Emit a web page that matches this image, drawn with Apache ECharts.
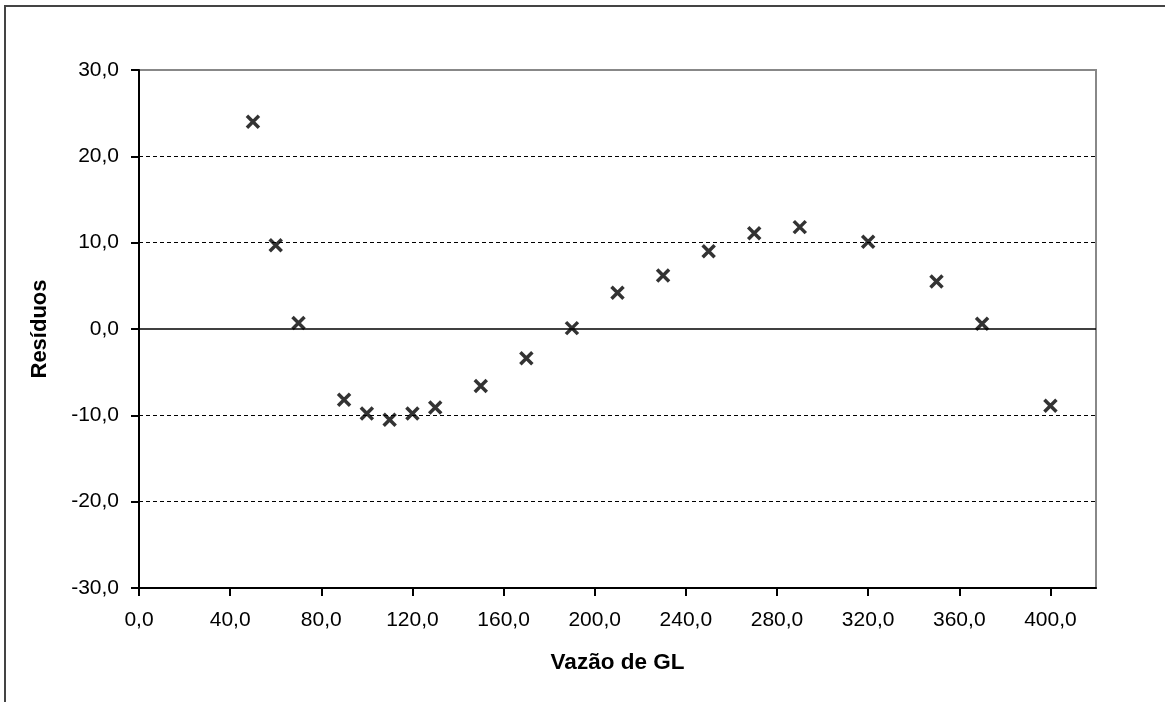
<!DOCTYPE html>
<html>
<head>
<meta charset="utf-8">
<title>Resíduos x Vazão de GL</title>
<script src="https://cdn.jsdelivr.net/npm/echarts@6/dist/echarts.min.js"></script>
<style>
  html, body { margin: 0; padding: 0; background: #fff; overflow: hidden; }
  #frame {
    position: absolute; left: 4px; top: 5px; width: 1180px; height: 720px;
    border-left: 2px solid #444; border-top: 2px solid #444; box-sizing: border-box;
  }
  #chart { position: absolute; left: 0; top: 0; width: 1165px; height: 702px; }
</style>
</head>
<body>
<div id="frame"></div>
<div id="chart"></div>
<script>
// Flow rate (Vazão de GL) and the matching residuals
const vazao = [50, 60, 70, 90, 100, 110, 120, 130, 150, 170, 190, 210, 230, 250, 270, 290, 320, 350, 370, 400];
const residuos = [24.0, 9.7, 0.7, -8.2, -9.8, -10.5, -9.8, -9.1, -6.6, -3.4, 0.1, 4.2, 6.2, 9.0, 11.1, 11.8, 10.1, 5.5, 0.6, -8.9];

// Axis ranges, labelled x ticks and dashed reference levels
const xRange = [0, 420, 40];
const xTicks = [0, 40, 80, 120, 160, 200, 240, 280, 320, 360, 400];
const yRange = [-30, 30, 10];
const dashedLevels = [-20, -10, 10, 20];

const fmt = v => v.toFixed(1).replace('.', ',');
const FONT = 'Liberation Sans, Arial, sans-serif';

const chart = echarts.init(document.getElementById('chart'), null, { renderer: 'canvas' });

chart.setOption({
  animation: false,
  backgroundColor: 'transparent',
  grid: {
    left: 139, top: 70, right: 69, bottom: 114,
    show: true, borderColor: '#888', borderWidth: 2, backgroundColor: 'transparent'
  },
  xAxis: {
    type: 'value',
    min: xRange[0], max: xRange[1], interval: xRange[2],
    name: 'Vazão de GL',
    nameLocation: 'middle',
    nameGap: 63,
    nameTextStyle: { fontFamily: FONT, fontSize: 22.5, fontWeight: 'bold', color: '#000' },
    axisLine: { show: true, onZero: false, lineStyle: { color: '#000', width: 2 } },
    axisTick: { show: true, length: 8, customValues: xTicks, lineStyle: { color: '#000', width: 2 } },
    axisLabel: {
      margin: 22, fontFamily: FONT, fontSize: 21, color: '#000',
      customValues: xTicks, formatter: fmt
    },
    splitLine: { show: false }
  },
  yAxis: {
    type: 'value',
    min: yRange[0], max: yRange[1], interval: yRange[2],
    name: 'Resíduos',
    nameLocation: 'middle',
    nameGap: 88,
    nameRotate: 90,
    nameTextStyle: { fontFamily: FONT, fontSize: 22, fontWeight: 'bold', color: '#000' },
    axisLine: { show: true, onZero: false, lineStyle: { color: '#000', width: 2 } },
    axisTick: { show: true, length: 8, lineStyle: { color: '#000', width: 2 } },
    axisLabel: { margin: 20, fontFamily: FONT, fontSize: 21, color: '#000', formatter: fmt },
    splitLine: { show: false }
  },
  series: [
    {
      type: 'scatter',
      data: vazao.map((x, i) => [x, residuos[i]]),
      symbol: 'path://M0,0 L2,2 M2,0 L0,2',
      symbolSize: 12,
      itemStyle: { color: 'none', borderColor: '#000', borderWidth: 3.5 },
      z: 5,
      markLine: {
        silent: true,
        symbol: 'none',
        label: { show: false },
        z: 1,
        data: dashedLevels.map(v => ({ yAxis: v, lineStyle: { type: [4, 3], color: '#000', width: 1 } }))
          .concat([{ yAxis: 0, lineStyle: { type: 'solid', color: '#000', width: 1.5 } }])
      }
    }
  ]
});
</script>
</body>
</html>
